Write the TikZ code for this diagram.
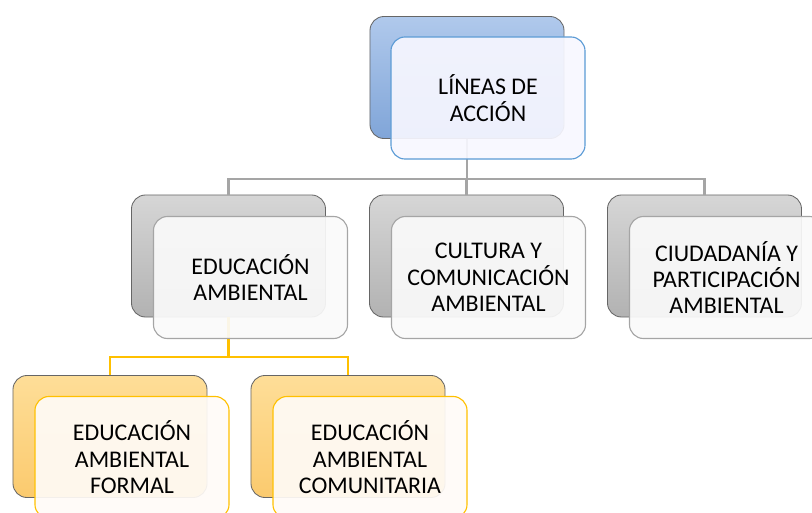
\documentclass[tikz,border=0pt]{standalone}
\usepackage{fontspec}
\setmainfont{Carlito}
\usetikzlibrary{positioning}
\definecolor{blueback}{RGB}{128,165,216}
\definecolor{bluetop}{RGB}{176,201,236}
\definecolor{blueline}{RGB}{91,155,213}
\definecolor{greyback}{RGB}{178,178,178}
\definecolor{greytop}{RGB}{214,214,214}
\definecolor{greyline}{RGB}{165,165,165}
\definecolor{goldback}{RGB}{251,202,110}
\definecolor{goldtop}{RGB}{254,222,152}
\definecolor{goldline}{RGB}{255,192,0}

\begin{document}
\begin{tikzpicture}[x=0.025cm, y=-0.025cm,
    back/.style={rectangle, rounded corners=10pt, draw=black!60, line width=0.6pt, minimum width=4.85cm, minimum height=3.05cm, inner sep=0pt},
    front/.style={rectangle, rounded corners=10pt, line width=0.8pt, fill opacity=0.92, text opacity=1, minimum width=4.85cm, minimum height=3.05cm, align=center, inner sep=0pt, font=\fontsize{17}{18.8}\selectfont, text=black},
    link/.style={line width=1.5pt}
]
\useasboundingbox (0,0) rectangle (812,513);
\clip (0,0) rectangle (812,513);

% back boxes
\node[back, top color=bluetop, bottom color=blueback] (lb) at (467,77.5) {};
\node[back, top color=greytop, bottom color=greyback] (eab) at (228.5,256) {};
\node[back, top color=greytop, bottom color=greyback] (ccb) at (466.5,256) {};
\node[back, top color=greytop, bottom color=greyback] (cpb) at (704.5,256) {};
\node[back, top color=goldtop, bottom color=goldback] (efb) at (110,436.5) {};
\node[back, top color=goldtop, bottom color=goldback] (ecb) at (348,436.5) {};

% connectors
\draw[link, greyline] (lb.south) -- ++(0,40) -| (eab.north);
\draw[link, greyline] (lb.south) -- ++(0,40) -| (ccb.north);
\draw[link, greyline] (lb.south) -- ++(0,40) -| (cpb.north);
\draw[link, goldline] (eab.south) -- ++(0,40) -| (efb.north);
\draw[link, goldline] (eab.south) -- ++(0,40) -| (ecb.north);

% front boxes
\node[front, draw=blueline, fill=blue!3] (lineas) at (488,98) {LÍNEAS DE\\ACCIÓN};
\node[front, draw=greyline, fill=black!2] (edu) at (250.5,277.5) {EDUCACIÓN\\AMBIENTAL};
\node[front, draw=greyline, fill=black!2] (cult) at (488.5,277.5) {CULTURA Y\\COMUNICACIÓN\\AMBIENTAL};
\node[front, draw=greyline, fill=black!2] (ciud) at (726.5,277.5) {CIUDADANÍA Y\\PARTICIPACIÓN\\AMBIENTAL};
\node[front, draw=goldline, fill=orange!3] (formal) at (132,457.5) {EDUCACIÓN\\AMBIENTAL\\FORMAL};
\node[front, draw=goldline, fill=orange!3] (comun) at (370,457.5) {EDUCACIÓN\\AMBIENTAL\\COMUNITARIA};

\end{tikzpicture}
\end{document}
